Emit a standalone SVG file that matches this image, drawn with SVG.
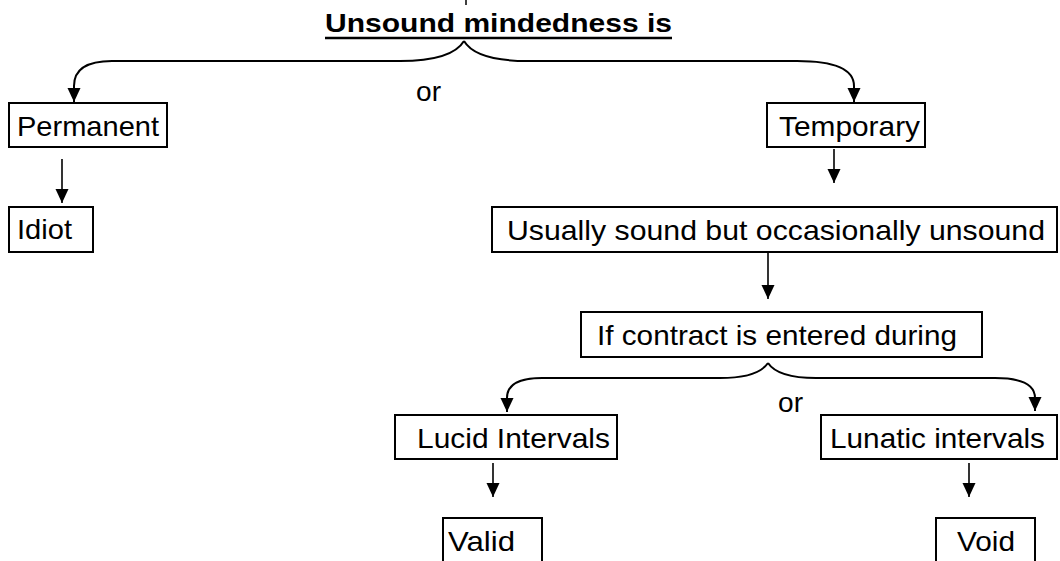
<svg xmlns="http://www.w3.org/2000/svg" width="1060" height="561" viewBox="0 0 1060 561">
<style>
.box{fill:#fff;stroke:#000;stroke-width:2}
.t{font-family:"Liberation Sans",Arial,sans-serif;font-size:28px;fill:#000}
.title{font-family:"Liberation Sans",Arial,sans-serif;font-size:26px;font-weight:bold;fill:#000}
.c{fill:none;stroke:#000;stroke-width:2}
.s{fill:none;stroke:#000;stroke-width:1.6}
</style>
<defs>
<marker id="ah" markerUnits="userSpaceOnUse" markerWidth="14" markerHeight="14" refX="14" refY="6.5" orient="auto">
<path d="M0,0 L14,6.5 L0,13 z" fill="#000"/>
</marker>
</defs>
<rect width="1060" height="561" fill="#fff"/>
<line x1="466" y1="0" x2="466" y2="5" stroke="#000" stroke-width="1.5"/>
<g id="title">
<text class="title" x="325" y="32" textLength="347" lengthAdjust="spacingAndGlyphs">Unsound mindedness is</text>
<line x1="325" y1="38" x2="672" y2="38" stroke="#000" stroke-width="2.5"/>
</g>
<g id="connectors">
<path class="c" d="M464,41 Q452,61 400,61 H112 Q74,61 74,86 V102" marker-end="url(#ah)"/>
<path class="c" d="M464,41 Q476,61 528,61 H797 Q854,61 854,86 V102" marker-end="url(#ah)"/>
<path class="s" d="M62,159 V203" marker-end="url(#ah)"/>
<path class="s" d="M834,149 V183" marker-end="url(#ah)"/>
<path class="s" d="M768,252 V299" marker-end="url(#ah)"/>
<path class="c" d="M768,363 Q758,378 720,378 H542 Q507,378 507,398 V412" marker-end="url(#ah)"/>
<path class="c" d="M768,363 Q778,378 816,378 H995 Q1035,378 1035,398 V411" marker-end="url(#ah)"/>
<path class="s" d="M493,463 V497" marker-end="url(#ah)"/>
<path class="s" d="M969,463 V497" marker-end="url(#ah)"/>
<text class="t" x="416" y="101" textLength="25" lengthAdjust="spacingAndGlyphs">or</text>
<text class="t" x="778" y="412" textLength="25" lengthAdjust="spacingAndGlyphs">or</text>
</g>
<g id="permanent">
<rect class="box" x="9" y="103" width="158" height="44"/>
<text class="t" x="17" y="136" textLength="142" lengthAdjust="spacingAndGlyphs">Permanent</text>
</g>
<g id="temporary">
<rect class="box" x="767" y="103" width="158" height="44"/>
<text class="t" x="779" y="136" textLength="141" lengthAdjust="spacingAndGlyphs">Temporary</text>
</g>
<g id="idiot">
<rect class="box" x="9" y="207" width="84" height="45"/>
<text class="t" x="17" y="239" textLength="55" lengthAdjust="spacingAndGlyphs">Idiot</text>
</g>
<g id="usually">
<rect class="box" x="492" y="207" width="565" height="45"/>
<text class="t" x="507" y="240" textLength="538" lengthAdjust="spacingAndGlyphs">Usually sound but occasionally unsound</text>
</g>
<g id="ifcontract">
<rect class="box" x="581" y="312" width="401" height="45"/>
<text class="t" x="597" y="345" textLength="360" lengthAdjust="spacingAndGlyphs">If contract is entered during</text>
</g>
<g id="lucid">
<rect class="box" x="395" y="415" width="222" height="44"/>
<text class="t" x="417" y="448" textLength="193" lengthAdjust="spacingAndGlyphs">Lucid Intervals</text>
</g>
<g id="lunatic">
<rect class="box" x="821" y="415" width="236" height="44"/>
<text class="t" x="830" y="448" textLength="215" lengthAdjust="spacingAndGlyphs">Lunatic intervals</text>
</g>
<g id="valid">
<rect class="box" x="443" y="518" width="99" height="60"/>
<text class="t" x="448" y="551" textLength="67" lengthAdjust="spacingAndGlyphs">Valid</text>
</g>
<g id="void">
<rect class="box" x="936" y="518" width="99" height="60"/>
<text class="t" x="957" y="551" textLength="58" lengthAdjust="spacingAndGlyphs">Void</text>
</g>
</svg>
